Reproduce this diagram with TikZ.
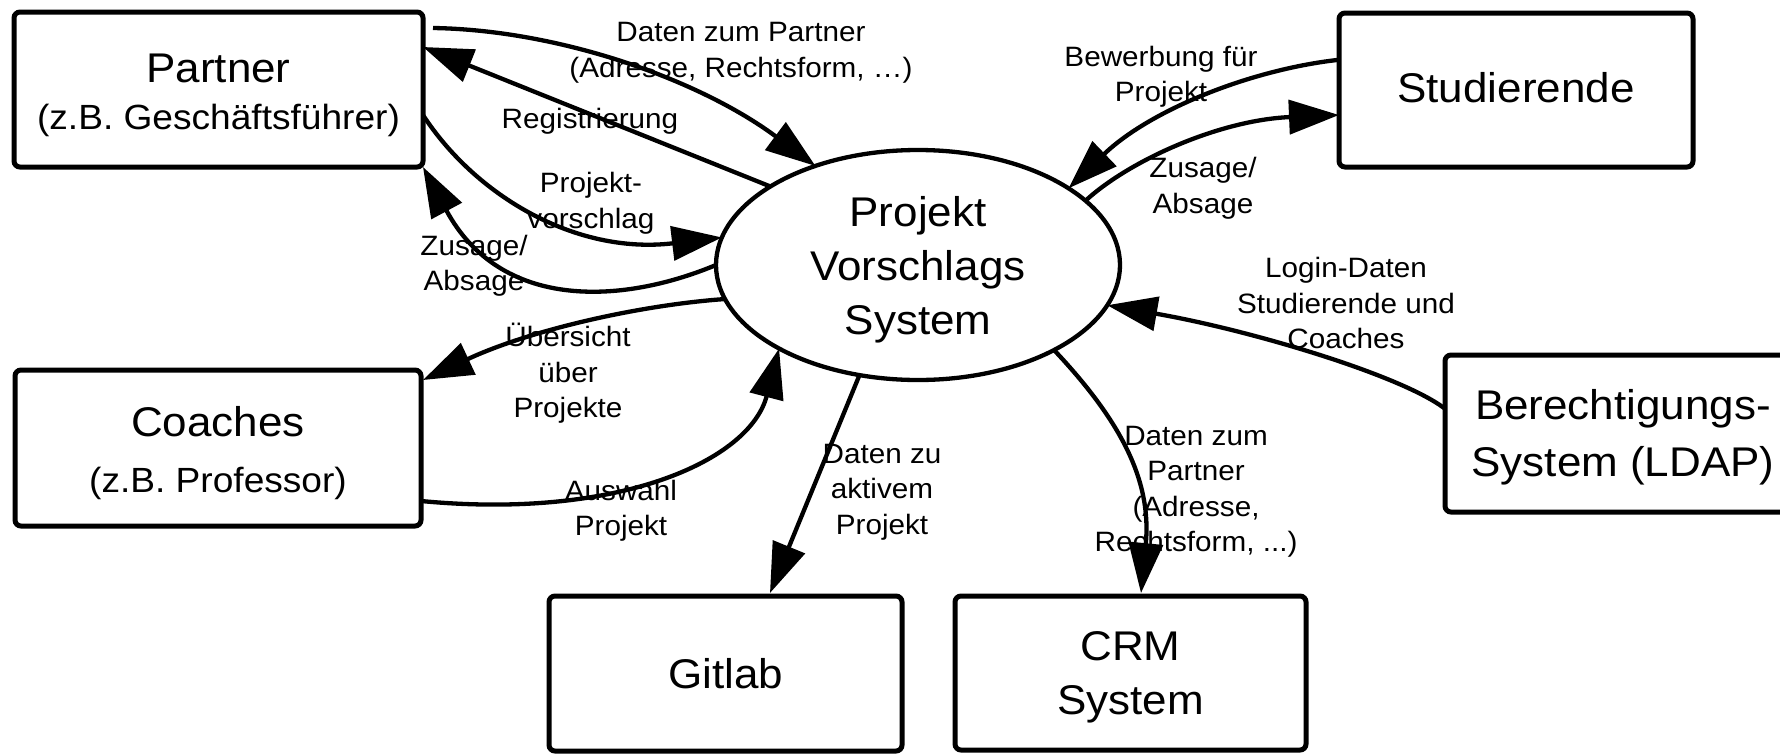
\documentclass[tikz,border=0pt]{standalone}
\usepackage{fontspec}
\setmainfont{Liberation Sans}[FakeStretch=1.06]
\usetikzlibrary{arrows.meta,calc,shapes.geometric}
\begin{document}
\begin{tikzpicture}[x=1pt,y=-1pt,
  box/.style={draw, line width=5pt, rounded corners=6pt, inner sep=0pt, outer sep=0pt},
  flow/.style={line width=4.3pt, -{Triangle[length=50pt,width=34pt]}},
  lbl/.style={font=\fontsize{28}{35.5}\selectfont, align=center, inner sep=0pt},
  big/.style={font=\fontsize{41.5}{54}\selectfont, align=center, inner sep=0pt},
]
\useasboundingbox (0,0) rectangle (1780,753);
\fill[white] (0,0) rectangle (1780,753);
\clip (0,0) rectangle (1780,753);

% central process
\node[ellipse, draw, line width=4.3pt, minimum width=404pt, minimum height=230pt,
      inner sep=0pt, outer sep=0pt,
      label={[big, name=pvstxt, yshift=-4.5pt]center:Projekt\\Vorschlags\\System}]
      (pvs) at (918,265) {};

% external entities
\node[box, minimum width=409pt, minimum height=155pt,
      label={[big, name=partnertxt, font=\fontsize{41.5}{47}\selectfont, yshift=-5.5pt]center:Partner\\{\fontsize{35}{47}\selectfont (z.B. Geschäftsführer)}}]
      (partner) at (218.5,89.5) {};
\node[box, minimum width=406pt, minimum height=156pt,
      label={[big, name=coachestxt, font=\fontsize{41.5}{56}\selectfont, yshift=-5pt]center:Coaches\\{\fontsize{35}{56}\selectfont (z.B. Professor)}}]
      (coaches) at (218,448) {};
\node[box, minimum width=354pt, minimum height=154pt,
      label={[big, name=studtxt, yshift=2.5pt]center:Studierende}]
      (stud) at (1516,90) {};
\node[box, minimum width=356pt, minimum height=157pt,
      label={[big, name=berechtxt, font=\fontsize{41.5}{57}\selectfont, yshift=-4pt]center:Berechtigungs-\\System (LDAP)}]
      (berech) at (1623,433.5) {};
\node[box, minimum width=353pt, minimum height=155pt,
      label={[big, name=gitlabtxt]center:Gitlab}]
      (gitlab) at (725.5,673.5) {};
\node[box, minimum width=351pt, minimum height=154pt,
      label={[big, name=crmtxt, yshift=-4.5pt]center:CRM\\System}]
      (crm) at (1130.5,673) {};

% data flows
\draw[flow] ($(partner.north east)+(10,16)$) .. controls (560,30) and (700,80) .. (pvs.136);
\draw[flow] (pvs.152) -- ($(partner.north east)+(0,35)$);
\draw[flow] ($(partner.north east)+(0,103)$) .. controls (475,195) and (575,255) .. (pvs.172);
\draw[flow] (pvs.180) .. controls (620,305) and (500,310) .. (partner.south east);
\draw[flow] (pvs.190) .. controls (640,305) and (530,330) .. ($(coaches.north east)+(2,10)$);
\draw[flow] ($(coaches.south east)+(0,-25)$) .. controls (620,520) and (750,460) .. (pvs.211);
\draw[flow] (pvs.242) -- ($(gitlab.north west)+(221,-3)$);
\draw[flow] (pvs.328) .. controls (1120,420) and (1152,480) .. ($(crm.north west)+(186,-3)$);
\draw[flow] ($(berech.north west)+(-1,53)$) .. controls (1400,375) and (1250,330) .. (pvs.348);
\draw[flow] (pvs.21) .. controls (1130,160) and (1220,120) .. ($(stud.north west)+(0,102)$);
\draw[flow] ($(stud.north west)+(-2,47)$) .. controls (1250,70) and (1150,110) .. (pvs.27);

% flow labels
\node[lbl] (lpdata) at (741,53) {Daten zum Partner\\(Adresse, Rechtsform, …)};
\node[lbl] (lreg) at (590,121.5) {Registrierung};
\node[lbl] (lvor) at (591,203.5) {Projekt-\\vorschlag};
\node[lbl] (lzup) at (474,266) {Zusage/\\Absage};
\node[lbl] (luebs) at (568,373.5) {Übersicht\\über\\Projekte};
\node[lbl] (lausw) at (621,511) {Auswahl\\Projekt};
\node[lbl] (lgit) at (882,492) {Daten zu\\aktivem\\Projekt};
\node[lbl] (lcrm) at (1196,492) {Daten zum\\Partner\\(Adresse,\\Rechtsform, ...)};
\node[lbl] (llogin) at (1346,303) {Login-Daten\\Studierende und\\Coaches};
\node[lbl] (lbew) at (1161,77) {Bewerbung für\\Projekt};
\node[lbl] (lzus) at (1203,188.5) {Zusage/\\Absage};
\end{tikzpicture}
\end{document}
